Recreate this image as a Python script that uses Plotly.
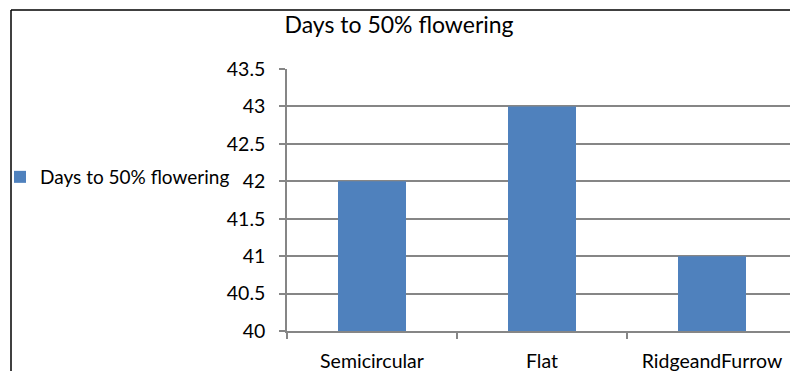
import plotly.graph_objects as go

categories = ["Semicircular", "Flat", "RidgeandFurrow"]
values = [42, 43, 41]
series_name = "Days to 50% flowering"
title_text = "Days to 50% flowering"
y_ticks = [40, 40.5, 41, 41.5, 42, 42.5, 43, 43.5]
y_tick_labels = ["40", "40.5", "41", "41.5", "42", "42.5", "43", "43.5"]

W, H = 790, 371
L, R, T, B = 287, 0, 69, 40
pw, ph = W - L - R, H - T - B

def px_x(px):
    return (px - L) / pw

def px_y(py):
    return (H - B - py) / ph

font_family = "Lato, 'Open Sans', sans-serif"

fig = go.Figure()
fig.add_trace(go.Bar(
    x=categories, y=values, name=series_name,
    marker=dict(color="#4F81BD", line=dict(width=0)),
    showlegend=True,
))

fig.update_layout(
    width=W, height=H,
    margin=dict(l=L, r=R, t=T, b=B, pad=0),
    paper_bgcolor="white", plot_bgcolor="white",
    font=dict(family=font_family, size=19.5, color="black"),
    bargap=0.6,
    title=dict(text=title_text, x=px_x(399), xref="paper", xanchor="center",
               y=1 - 25 / H, yanchor="middle", font=dict(size=23)),
    showlegend=True,
    legend=dict(x=px_x(0), y=px_y(177), xanchor="left", yanchor="middle",
                bgcolor="rgba(0,0,0,0)", font=dict(size=19), itemwidth=30,
                borderwidth=0),
    xaxis=dict(
        type="category", range=[-0.5, -0.5 + pw / 170.0],
        showline=True, linecolor="#868686", linewidth=1.5,
        ticks="outside", tickson="boundaries", ticklen=6, tickcolor="#868686",
        tickwidth=1.5, showgrid=False, tickfont=dict(size=19.5),
        ticklabelstandoff=12,
    ),
    yaxis=dict(
        range=[40, 43.5], tickvals=y_ticks, ticktext=y_tick_labels,
        showline=True, linecolor="#868686", linewidth=1.5,
        ticks="outside", ticklen=6, tickcolor="#868686", tickwidth=1.5,
        showgrid=True, gridcolor="#868686", gridwidth=1.5,
        zeroline=False, tickfont=dict(size=19.5), ticklabelstandoff=10,
    ),
    shapes=[
        dict(type="line", xref="paper", yref="paper",
             x0=px_x(11), x1=px_x(800), y0=px_y(10), y1=px_y(10),
             line=dict(color="black", width=1.5)),
        dict(type="line", xref="paper", yref="paper",
             x0=px_x(11), x1=px_x(11), y0=px_y(10), y1=px_y(380),
             line=dict(color="black", width=1.5)),
    ],
)

fig.write_html(
    "out.html",
    config={"displayModeBar": False},
    post_script="document.body.style.margin='0px';document.body.style.overflow='hidden';",
)
